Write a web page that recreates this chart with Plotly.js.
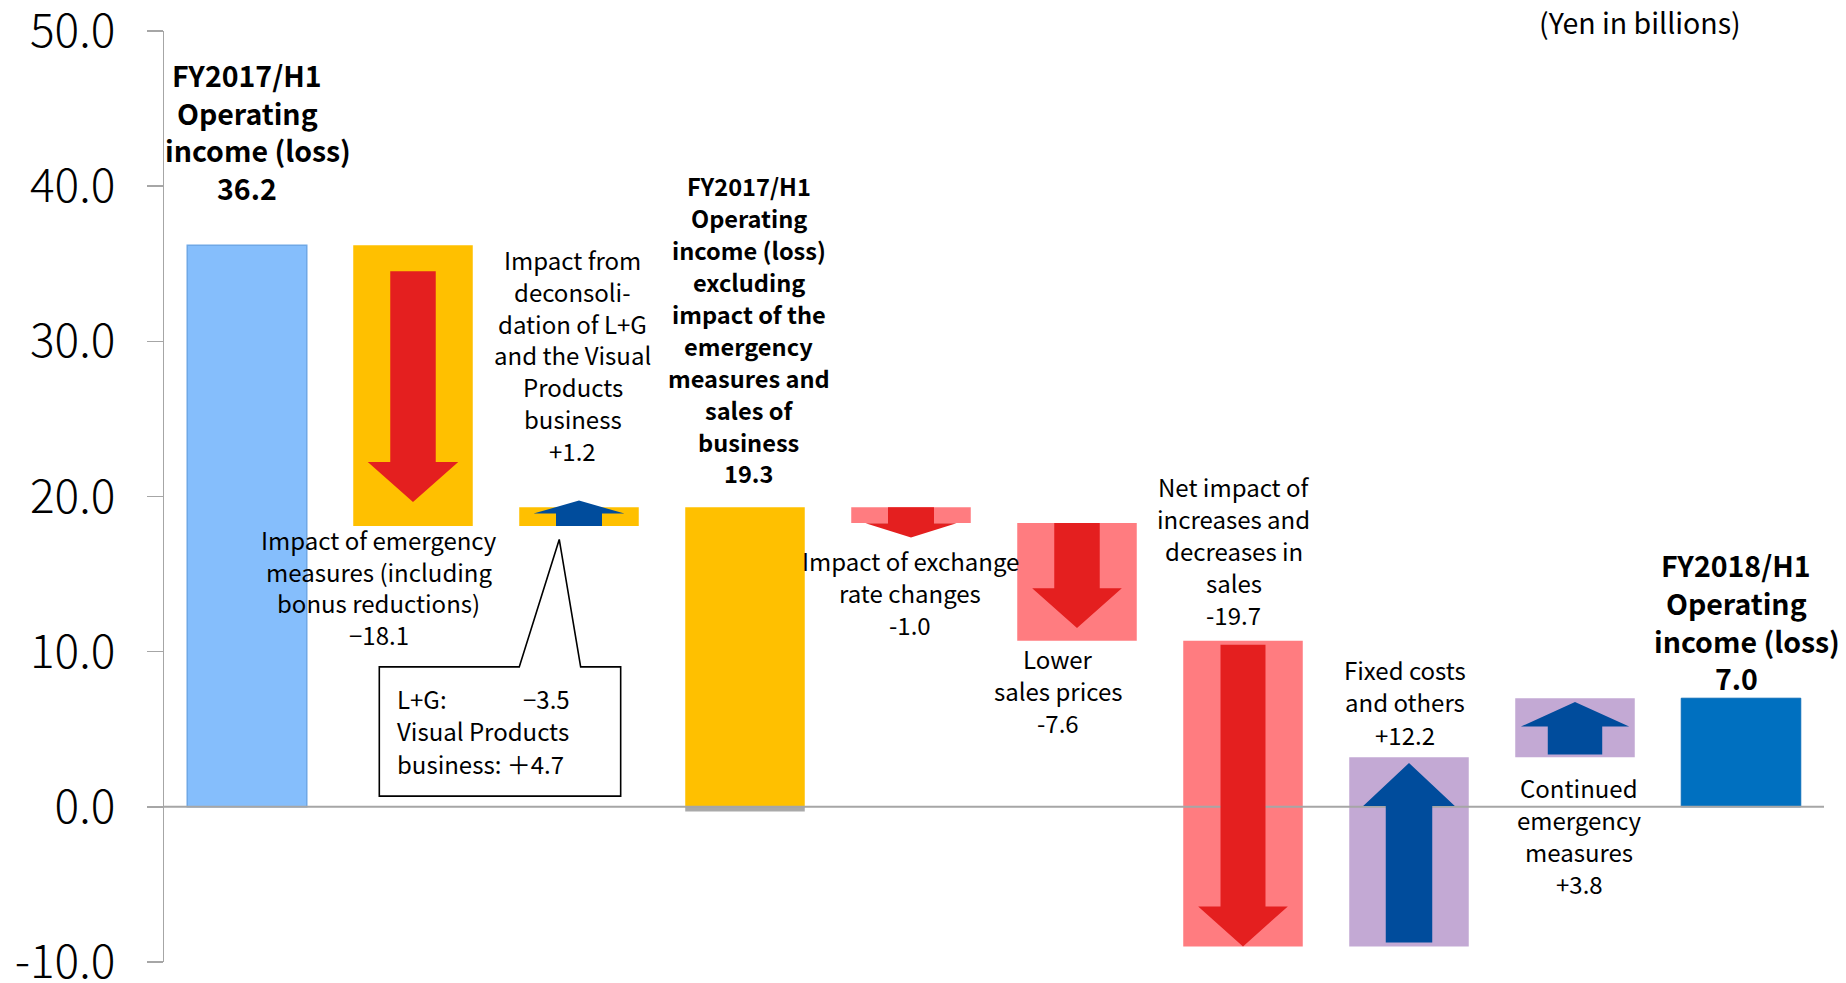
<!DOCTYPE html>
<html>
<head>
<meta charset="utf-8">
<script src="https://cdn.plot.ly/plotly-3.0.1.min.js"></script>
<style>
  html, body { margin: 0; padding: 0; background: #fff; }
  #chart { width: 1846px; height: 983px; }
</style>
</head>
<body>
<div id="chart"></div>
<script>
// ---------------- DATA ----------------
const categories = [
  "FY2017/H1 Operating income (loss)",
  "Impact of emergency measures (including bonus reductions)",
  "Impact from deconsolidation of L+G and the Visual Products business",
  "FY2017/H1 Operating income (loss) excluding impact of the emergency measures and sales of business",
  "Impact of exchange rate changes",
  "Lower sales prices",
  "Net impact of increases and decreases in sales",
  "Fixed costs and others",
  "Continued emergency measures",
  "FY2018/H1 Operating income (loss)"
];
const measures = ["absolute", "relative", "relative", "total", "relative", "relative", "relative", "relative", "relative", "total"];
const values   = [36.2, -18.1, 1.2, 19.3, -1.0, -7.6, -19.7, 12.2, 3.8, 7.0];
const edgeValues = [null, null, null, -0.3, null, null, null, null, null, null]; // grey edge under the 19.3 bar
const tickValues = [-10, 0, 10, 20, 30, 40, 50];
const tickLabels = ["-10.0", "0.0", "10.0", "20.0", "30.0", "40.0", "50.0"];
const breakdownLabels = ["L+G:", "\u22123.5", "Visual Products", "business: \uff0b4.7"];
const unitLabel = "(Yen in billions)";

// ---------------- STYLE ----------------
const barColors = ["#85BEFC", "#FFC000", "#FFC000", "#FFC000", "#FF7C80", "#FF7C80", "#FF7C80", "#C3A9D4", "#C3A9D4", "#0070C0"];
const barLineColors = ["#6FA8E6", "#FFC000", "#FFC000", "#FFC000", "#FF7C80", "#FF7C80", "#FF7C80", "#C3A9D4", "#C3A9D4", "#0A6CB8"];
const FONT = "'Noto Sans CJK JP', 'Noto Sans', sans-serif";
// arrow geometry per bar index: tail inset, tip inset, head length (y units), head width, shaft width (x units)
const arrowStyle = {
  1: {tail: 1.68, tip: 1.55, head: 2.58, hw: 0.545, sw: 0.274},
  2: {tail: 0.00, tip: -0.44, head: 0.84, hw: 0.548, sw: 0.277},
  4: {tail: 0.00, tip: -0.95, head: 0.93, hw: 0.548, sw: 0.277},
  5: {tail: 0.00, tip: 0.82, head: 2.56, hw: 0.540, sw: 0.274},
  6: {tail: 0.26, tip: 0.00, head: 2.58, hw: 0.540, sw: 0.271},
  7: {tail: 0.26, tip: 0.37, head: 2.77, hw: 0.552, sw: 0.280},
  8: {tail: 0.17, tip: 0.24, head: 1.59, hw: 0.652, sw: 0.328}
};
const upColor = "#004C9C", downColor = "#E41F1F";

// ---------------- BUILD BARS ----------------
const xs = categories.map((_, i) => i);
const bases = [], heights = [], starts = [], ends = [];
let running = 0;
values.forEach((v, i) => {
  if (measures[i] === "absolute") { starts.push(0); running = v; ends.push(running); }
  else if (measures[i] === "total") { starts.push(0); ends.push(running); }
  else { starts.push(running); running = +(running + v).toFixed(2); ends.push(running); }
  bases.push(starts[i]);
  heights.push(ends[i] - starts[i]);
});

const traces = [
  {
    type: "bar", x: xs, y: heights, base: bases, width: 0.72,
    marker: { color: barColors, line: { color: barLineColors, width: [1.5, 0, 0, 0, 0, 0, 0, 0, 0, 1] } },
    hovertext: categories, hoverinfo: "text", showlegend: false
  },
  {
    type: "bar", x: xs, y: edgeValues, base: 0, width: 0.72,
    marker: { color: "#A9A9A9" }, hoverinfo: "skip", showlegend: false
  }
];

// ---------------- SHAPES ----------------
const shapes = [];
// zero line above bars
shapes.push({ type: "line", xref: "paper", yref: "y", x0: 0, x1: 1.0, y0: 0, y1: 0,
  line: { color: "#A6A6A6", width: 2 }, layer: "above" });

// arrows derived from bar start/end values
Object.keys(arrowStyle).forEach(k => {
  const i = +k, s = arrowStyle[k];
  const up = ends[i] > starts[i];
  const dir = up ? 1 : -1;
  const tail = starts[i] + dir * s.tail;
  const tip = ends[i] - dir * s.tip;
  const hb = tip - dir * s.head;
  const hw = s.hw / 2, sw = s.sw / 2;
  const p = [
    [i - sw, tail], [i - sw, hb], [i - hw, hb], [i, tip], [i + hw, hb], [i + sw, hb], [i + sw, tail]
  ];
  const path = "M" + p.map(q => q[0].toFixed(4) + "," + q[1].toFixed(3)).join(" L") + " Z";
  shapes.push({ type: "path", xref: "x", yref: "y", path: path,
    fillcolor: up ? upColor : downColor, line: { width: 0 }, layer: "above" });
});

// callout box (breakdown of the +1.2 step)
const cb = { l: 0.797, r: 2.251, t: 9.02, b: 0.69, p1: 1.640, p2: 2.010, tx: 1.881, ty: 17.23 };
shapes.push({ type: "path", xref: "x", yref: "y",
  path: `M${cb.l},${cb.t} L${cb.p1},${cb.t} L${cb.tx},${cb.ty} L${cb.p2},${cb.t} L${cb.r},${cb.t} L${cb.r},${cb.b} L${cb.l},${cb.b} Z`,
  fillcolor: "rgba(255,255,255,1)", line: { color: "#000", width: 1.6 }, layer: "above" });

// ---------------- ANNOTATIONS ----------------
const TXT_DY = 0.13; // small vertical nudge for all text lines
const blocks = [
  { lines: ["FY2017/H1", "Operating", "income (loss)", values[0].toFixed(1)], shift: [0, 0, 11, 0], x: 0.0, y: 47.05, dy: 2.42, size: 28.5, bold: true },
  { lines: ["Impact of emergency", "measures (including", "bonus reductions)", "\u2212" + Math.abs(values[1]).toFixed(1)], x: 0.795, y: 17.07, dy: 2.03, size: 24 },
  { lines: ["Impact from", "deconsoli-", "dation of L+G", "and the Visual", "Products", "business", "+" + values[2].toFixed(1)], x: 1.962, y: 35.14, dy: 2.05, size: 24 },
  { lines: ["FY2017/H1", "Operating", "income (loss)", "excluding", "impact of the", "emergency", "measures and", "sales of", "business", values[3].toFixed(1)], x: 3.022, y: 39.85, dy: 2.055, size: 23.6, bold: true },
  { lines: ["Impact of exchange", "rate changes", values[4].toFixed(1)], x: 3.994, y: 15.73, dy: 2.05, size: 24 },
  { lines: ["Lower", "sales prices", values[5].toFixed(1)], x: 4.886, y: 9.43, dy: 2.05, size: 24 },
  { lines: ["Net impact of", "increases and", "decreases in", "sales", values[6].toFixed(1)], x: 5.943, y: 20.50, dy: 2.06, size: 24 },
  { lines: ["Fixed costs", "and others", "+" + values[7].toFixed(1)], x: 6.976, y: 8.70, dy: 2.07, size: 24 },
  { lines: ["Continued", "emergency", "measures", "+" + values[8].toFixed(1)], x: 8.027, y: 1.12, dy: 2.07, size: 24 },
  { lines: ["FY2018/H1", "Operating", "income (loss)", values[9].toFixed(1)], shift: [0, 0, 11, 0], x: 8.970, y: 15.46, dy: 2.42, size: 28.5, bold: true }
];
const annotations = [];
blocks.forEach(b => {
  b.lines.forEach((t, j) => {
    annotations.push({
      xref: "x", yref: "y", x: b.x, y: b.y - j * b.dy + TXT_DY, text: b.bold ? "<b>" + t + "</b>" : t,
      xshift: b.shift ? b.shift[j] : 0, borderpad: 0,
      showarrow: false, xanchor: "center", yanchor: "middle",
      font: { family: FONT, size: b.size, color: "#000" }
    });
  });
});
// callout text
const calloutFont = { family: FONT, size: 24, color: "#000" };
annotations.push({ xref: "x", yref: "y", x: 0.898, y: 6.95, text: breakdownLabels[0], showarrow: false, xanchor: "left", yanchor: "middle", borderpad: 0, font: calloutFont });
annotations.push({ xref: "x", yref: "y", x: 1.954, y: 6.95, text: breakdownLabels[1], showarrow: false, xanchor: "right", yanchor: "middle", borderpad: 0, font: calloutFont });
annotations.push({ xref: "x", yref: "y", x: 0.898, y: 4.90, text: breakdownLabels[2], showarrow: false, xanchor: "left", yanchor: "middle", borderpad: 0, font: calloutFont });
annotations.push({ xref: "x", yref: "y", x: 0.898, y: 2.82, text: breakdownLabels[3], showarrow: false, xanchor: "left", yanchor: "middle", borderpad: 0, font: calloutFont });
// unit label (above plot area)
annotations.push({ xref: "x", yref: "paper", x: 8.392, y: 1.0101, text: unitLabel, showarrow: false, xanchor: "center", yanchor: "middle", borderpad: 0,
  font: { family: FONT, size: 28.5, color: "#000" } });

// ---------------- LAYOUT ----------------
const layout = {
  width: 1846, height: 983,
  margin: { l: 164, r: 22, t: 31, b: 21, pad: 0 },
  paper_bgcolor: "#fff", plot_bgcolor: "#fff",
  barmode: "overlay",
  showlegend: false,
  xaxis: { range: [-0.5, 9.5], visible: false, fixedrange: true },
  yaxis: {
    range: [-10, 50], tickmode: "array", tickvals: tickValues, ticktext: tickLabels,
    showgrid: false, zeroline: false, showline: true, linecolor: "#A6A6A6", linewidth: 1.5,
    ticks: "outside", ticklen: 16, tickwidth: 1.5, tickcolor: "#A6A6A6",
    ticklabelstandoff: 22, ticklabeloverflow: "allow",
    tickfont: { family: FONT, size: 46, weight: 300, color: "#000" }, fixedrange: true
  },
  annotations: annotations,
  shapes: shapes,
  font: { family: FONT }
};

Plotly.newPlot("chart", traces, layout, { displayModeBar: false, staticPlot: true });
</script>
</body>
</html>
